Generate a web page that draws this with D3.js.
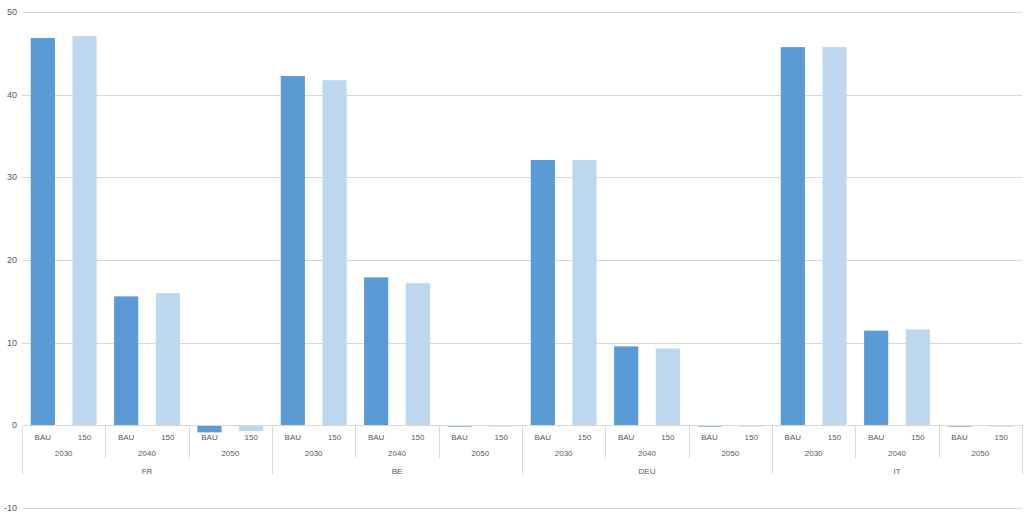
<!DOCTYPE html>
<html><head><meta charset="utf-8">
<script src="https://cdn.jsdelivr.net/npm/d3@7"></script>
<style>body{margin:0;background:#fff}svg{display:block;font-family:"Liberation Sans",Arial,sans-serif}</style>
</head><body><svg id="c" width="1024" height="515"></svg>
<script>
const countries = ["FR","BE","DEU","IT"];
const years = ["2030","2040","2050"];
const series = ["BAU","150"];
const bauValues = [46.85,15.6,-0.85, 42.25,17.9,-0.15, 32.1,9.55,-0.15, 45.75,11.45,-0.15];
const s150Values = [47.1,16.0,-0.7, 41.75,17.2,-0.15, 32.1,9.3,-0.15, 45.75,11.6,-0.15];
const yTicks = [-10,0,10,20,30,40,50];
const colors = ["#5b9bd5","#bdd7ee"];

const svg = d3.select("#c");
const left = 22, right = 1022;
const y = d3.scaleLinear().domain([-10,50]).range([508,12]);
const xC = d3.scaleBand().domain(countries).range([left,right]);
const xY = d3.scaleBand().domain(years).range([0,xC.bandwidth()]);
const xS = d3.scaleBand().domain(series).range([0,xY.bandwidth()]).paddingInner(0.42).paddingOuter(0.21);

// gridlines
svg.append("g").selectAll("line").data(yTicks.filter(d=>d!==0)).join("line")
  .attr("x1",left).attr("x2",right).attr("y1",d=>Math.round(y(d))+0.5).attr("y2",d=>Math.round(y(d))+0.5)
  .attr("stroke","#d9d9d9").attr("stroke-width",1);
// y labels
svg.append("g").selectAll("text").data(yTicks).join("text")
  .attr("x",17).attr("y",d=>y(d)+3).attr("text-anchor","end")
  .attr("font-size",9).attr("fill","#595959").text(d=>d);

// data rows
const rows = [];
countries.forEach((c,ci)=>years.forEach((yr,yi)=>{
  const idx = ci*3+yi;
  rows.push({c,yr,s:"BAU",v:bauValues[idx],k:0});
  rows.push({c,yr,s:"150",v:s150Values[idx],k:1});
}));
const bx = d=>xC(d.c)+xY(d.yr)+xS(d.s);
svg.append("g").selectAll("rect").data(rows).join("rect")
  .attr("x",bx).attr("width",xS.bandwidth())
  .attr("y",d=>y(Math.max(0,d.v))).attr("height",d=>Math.max(1.2,Math.abs(y(d.v)-y(0))))
  .attr("fill",d=>colors[d.k]);

// zero axis line
const y0 = Math.round(y(0))+0.5;
svg.append("line").attr("x1",left).attr("x2",right).attr("y1",y0).attr("y2",y0).attr("stroke","#d9d9d9");

// series labels
svg.append("g").selectAll("text").data(rows).join("text")
  .attr("x",d=>bx(d)+xS.bandwidth()/2).attr("y",y0+14).attr("text-anchor","middle")
  .attr("font-size",8).attr("fill","#595959").text(d=>d.s);
// year labels
const yearRows = [];
countries.forEach(c=>years.forEach(yr=>yearRows.push({c,yr})));
svg.append("g").selectAll("text").data(yearRows).join("text")
  .attr("x",d=>xC(d.c)+xY(d.yr)+xY.bandwidth()/2).attr("y",y0+30).attr("text-anchor","middle")
  .attr("font-size",8).attr("fill","#595959").text(d=>d.yr);
// year dividers
svg.append("g").selectAll("line").data(yearRows.filter(d=>d.yr!=="2030")).join("line")
  .attr("x1",d=>Math.round(xC(d.c)+xY(d.yr))+0.5).attr("x2",d=>Math.round(xC(d.c)+xY(d.yr))+0.5)
  .attr("y1",y0).attr("y2",y0+33).attr("stroke","#d9d9d9");
// country labels
svg.append("g").selectAll("text").data(countries).join("text")
  .attr("x",d=>xC(d)+xC.bandwidth()/2).attr("y",y0+48).attr("text-anchor","middle")
  .attr("font-size",8).attr("fill","#595959").text(d=>d);
// country dividers
const cb = countries.map(c=>xC(c)).concat([right]);
svg.append("g").selectAll("line").data(cb).join("line")
  .attr("x1",d=>Math.round(d)+0.5).attr("x2",d=>Math.round(d)+0.5)
  .attr("y1",y0).attr("y2",y0+49).attr("stroke","#d9d9d9");
</script></body></html>
